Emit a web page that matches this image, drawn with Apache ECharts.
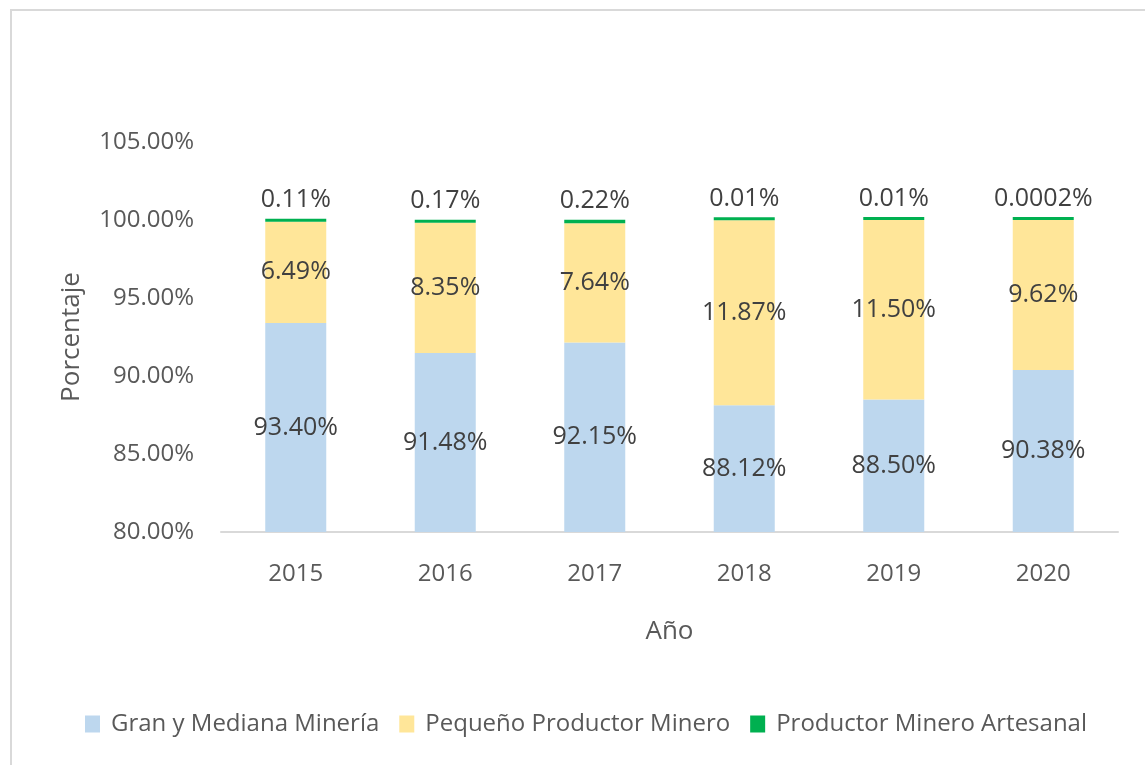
<!DOCTYPE html>
<html>
<head>
<meta charset="utf-8">
<script src="https://cdn.jsdelivr.net/npm/echarts@6/dist/echarts.min.js"></script>
<style>
  html, body { margin: 0; padding: 0; background: #fff; }
  #chart { width: 1145px; height: 765px; }
</style>
</head>
<body>
<div id="chart"></div>
<script>
// Data
var years = ['2015', '2016', '2017', '2018', '2019', '2020'];
var granMediana = [93.40, 91.48, 92.15, 88.12, 88.50, 90.38];
var pequeno = [6.49, 8.35, 7.64, 11.87, 11.50, 9.62];
var artesanal = [0.11, 0.17, 0.22, 0.01, 0.01, 0.0002];
var seriesNames = ['Gran y Mediana Minería', 'Pequeño Productor Minero', 'Productor Minero Artesanal'];

var font = 'Open Sans';

function pct(v) {
  return (v < 0.01 ? v.toFixed(4) : v.toFixed(2)) + '%';
}

var chartDom = document.getElementById('chart');
var chart = echarts.init(chartDom);
var option = {
  animation: false,
  textStyle: { fontFamily: font },
  graphic: [
    {
      type: 'rect',
      shape: { x: 11, y: 10, width: 1140, height: 762 },
      style: { fill: 'none', stroke: '#d9d9d9', lineWidth: 2 }
    }
  ],
  grid: {
    left: 221,
    right: 27,
    top: 142,
    bottom: 233
  },
  legend: {
    data: seriesNames,
    top: 707,
    left: 80,
    itemWidth: 15,
    itemHeight: 17,
    itemGap: 20,
    icon: 'rect',
    textStyle: { fontSize: 24, color: '#595959', fontFamily: font, padding: [0, 0, 0, 6] }
  },
  xAxis: {
    type: 'category',
    data: years,
    name: 'Año',
    nameLocation: 'middle',
    nameGap: 87,
    nameTextStyle: { fontSize: 26, color: '#595959', fontFamily: font },
    axisLine: { lineStyle: { color: '#d9d9d9', width: 2 } },
    axisTick: { show: false },
    axisLabel: { fontSize: 24, color: '#595959', margin: 30, fontFamily: font }
  },
  yAxis: {
    type: 'value',
    min: 80,
    max: 105,
    interval: 5,
    name: 'Porcentaje',
    nameLocation: 'middle',
    nameGap: 136,
    nameTextStyle: { fontSize: 26, color: '#595959', fontFamily: font },
    axisLine: { show: false },
    axisTick: { show: false },
    splitLine: { show: false },
    axisLabel: {
      fontSize: 24,
      color: '#595959',
      margin: 27,
      fontFamily: font,
      formatter: function (v) { return v.toFixed(2) + '%'; }
    }
  },
  series: [
    {
      name: seriesNames[0],
      type: 'bar',
      stack: 'total',
      barWidth: 61,
      data: granMediana,
      itemStyle: { color: '#bdd7ee' },
      label: {
        show: true,
        position: 'inside',
        fontSize: 25,
        color: '#404040',
        fontFamily: font,
        formatter: function (p) { return pct(p.value); }
      }
    },
    {
      name: seriesNames[1],
      type: 'bar',
      stack: 'total',
      barWidth: 61,
      data: pequeno,
      itemStyle: { color: '#ffe699' },
      label: {
        show: true,
        position: 'inside',
        fontSize: 25,
        color: '#404040',
        fontFamily: font,
        formatter: function (p) { return pct(p.value); }
      }
    },
    {
      name: seriesNames[2],
      type: 'bar',
      stack: 'total',
      barWidth: 61,
      barMinHeight: 3,
      data: artesanal,
      itemStyle: { color: '#00b050' },
      label: {
        show: true,
        position: 'top',
        distance: 6,
        fontSize: 25,
        color: '#404040',
        fontFamily: font,
        formatter: function (p) { return pct(p.value); }
      }
    }
  ]
};
chart.setOption(option);
window.addEventListener('resize', function () {
  chart.resize();
});
</script>
</body>
</html>
